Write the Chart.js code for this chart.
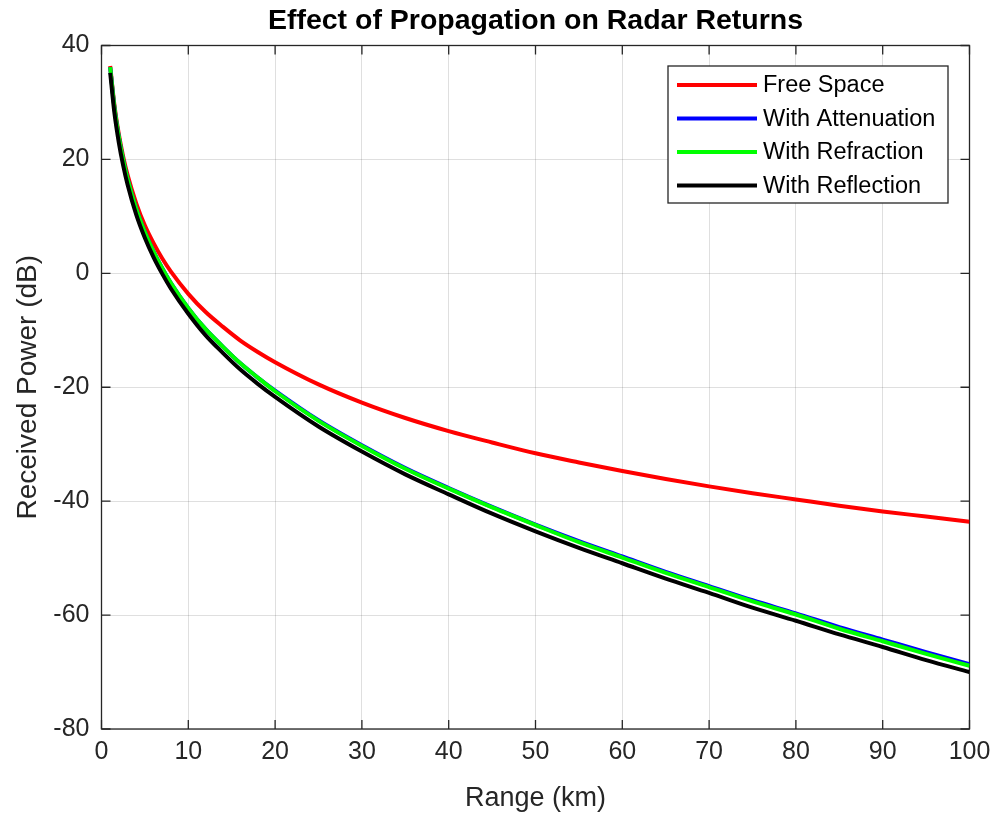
<!DOCTYPE html>
<html>
<head>
<meta charset="utf-8">
<script src="https://cdn.jsdelivr.net/npm/chart.js@4.4.1/dist/chart.umd.min.js"></script>
<style>
  body { margin: 0; background: #fff; }
  #wrap { width: 994px; height: 818px; }
</style>
</head>
<body>
<div id="wrap"><canvas id="myChart" width="994" height="818"></canvas></div>
<script>
// range in km
var ranges = [1, 1.5, 2, 2.5, 3, 4, 5, 6, 7, 8, 10, 12, 14, 16, 18, 20, 25, 30, 35, 40, 45, 50, 55, 60, 65, 70, 75, 80, 85, 90, 95, 100];

// received power in dB
var freeSpace   = [36.4, 29.4, 24.4, 20.5, 17.3, 12.3, 8.4, 5.3, 2.6, 0.3, -3.6, -6.8, -9.4, -11.8, -13.8, -15.6, -19.5, -22.7, -25.4, -27.7, -29.7, -31.6, -33.2, -34.7, -36.1, -37.4, -38.6, -39.7, -40.8, -41.8, -42.7, -43.6];
var attenuation = [36.2, 29.0, 23.9, 19.9, 16.6, 11.3, 7.2, 3.8, 0.9, -1.7, -6.1, -9.8, -12.9, -15.8, -18.3, -20.6, -25.8, -30.2, -34.2, -37.7, -41.0, -44.1, -47.0, -49.7, -52.4, -54.9, -57.4, -59.7, -62.1, -64.3, -66.5, -68.6];
var refraction  = [36.2, 29.0, 23.9, 19.9, 16.6, 11.3, 7.2, 3.8, 0.9, -1.7, -6.1, -9.8, -12.9, -15.8, -18.3, -20.7, -25.9, -30.3, -34.3, -37.8, -41.1, -44.2, -47.2, -49.9, -52.6, -55.1, -57.6, -59.9, -62.4, -64.6, -66.8, -68.9];
var reflection  = [35.2, 28.0, 22.9, 18.9, 15.6, 10.3, 6.2, 2.8, -0.1, -2.7, -7.1, -10.9, -14.0, -16.9, -19.4, -21.7, -26.9, -31.3, -35.3, -38.8, -42.2, -45.3, -48.2, -50.9, -53.6, -56.1, -58.7, -61.0, -63.4, -65.6, -67.9, -70.0];

var seriesNames = ["Free Space", "With Attenuation", "With Refraction", "With Reflection"];
var seriesColors = ["#ff0000", "#0000ff", "#00ff00", "#000000"];

var xTicks = [0, 10, 20, 30, 40, 50, 60, 70, 80, 90, 100];
var yTicks = [-80, -60, -40, -20, 0, 20, 40];

var chartTitle = "Effect of Propagation on Radar Returns";

var axisColor = "#262626";
var gridColor = "rgba(38,38,38,0.15)";
var fontFamily = "'Liberation Sans', Arial, Helvetica, sans-serif";

function toPoints(ys) {
  return ranges.map(function (r, i) { return { x: r, y: ys[i] }; });
}

var allSeries = [freeSpace, attenuation, refraction, reflection];
var datasets = allSeries.map(function (ys, i) {
  return {
    label: seriesNames[i],
    data: toPoints(ys),
    borderColor: seriesColors[i],
    backgroundColor: seriesColors[i],
    borderWidth: 4,
    pointRadius: 0,
    fill: false,
    cubicInterpolationMode: "monotone",
    order: allSeries.length - i   // later series drawn on top
  };
});

// box around the axes + inward tick marks + title centred over the axes (matlab look)
var axesBox = {
  id: "axesBox",
  beforeDatasetsDraw: function (chart) {
    var ctx = chart.ctx;
    var a = chart.chartArea;
    var xs = chart.scales.x, ys = chart.scales.y;
    var tl = 9;
    ctx.save();
    ctx.strokeStyle = axisColor;
    ctx.lineWidth = 1.3;
    ctx.beginPath();
    xTicks.forEach(function (v) {
      var px = xs.getPixelForValue(v);
      ctx.moveTo(px, a.bottom); ctx.lineTo(px, a.bottom - tl);
      ctx.moveTo(px, a.top); ctx.lineTo(px, a.top + tl);
    });
    yTicks.forEach(function (v) {
      var py = ys.getPixelForValue(v);
      ctx.moveTo(a.left, py); ctx.lineTo(a.left + tl, py);
      ctx.moveTo(a.right, py); ctx.lineTo(a.right - tl, py);
    });
    ctx.stroke();
    ctx.strokeRect(a.left, a.top, a.right - a.left, a.bottom - a.top);

    ctx.fillStyle = "#000";
    ctx.font = "bold 28.5px " + fontFamily;
    ctx.textAlign = "center";
    ctx.textBaseline = "middle";
    ctx.fillText(chartTitle, (a.left + a.right) / 2, 21);
    ctx.restore();
  }
};

// legend box in the upper right corner
var boxLegend = {
  id: "boxLegend",
  afterDraw: function (chart) {
    var ctx = chart.ctx;
    var bx = 668, by = 66, bw = 280, bh = 137;
    var rowH = 33.5;
    ctx.save();
    ctx.fillStyle = "#fff";
    ctx.fillRect(bx, by, bw, bh);
    ctx.strokeStyle = axisColor;
    ctx.lineWidth = 1.3;
    ctx.strokeRect(bx, by, bw, bh);
    ctx.font = "23.5px " + fontFamily;
    ctx.textBaseline = "middle";
    ctx.textAlign = "left";
    chart.data.datasets.forEach(function (ds, i) {
      var cy = by + 19 + i * rowH;
      ctx.strokeStyle = ds.borderColor;
      ctx.lineWidth = 4;
      ctx.beginPath();
      ctx.moveTo(bx + 9, cy);
      ctx.lineTo(bx + 89, cy);
      ctx.stroke();
      ctx.fillStyle = "#000";
      ctx.fillText(ds.label, bx + 95, cy + 1);
    });
    ctx.restore();
  }
};

new Chart("myChart", {
  type: "line",
  data: { datasets: datasets },
  plugins: [axesBox, boxLegend],
  options: {
    responsive: false,
    animation: false,
    devicePixelRatio: 1,
    layout: { padding: { left: 0, right: 24.5, top: 45.5, bottom: 0 } },
    plugins: {
      legend: { display: false },
      tooltip: { enabled: false },
      title: { display: false }
    },
    scales: {
      x: {
        type: "linear",
        min: 0,
        max: 100,
        afterBuildTicks: function (scale) {
          scale.ticks = xTicks.map(function (v) { return { value: v }; });
        },
        afterFit: function (scale) {
          scale.height = 89;
          scale.paddingLeft = 0;
          scale.paddingRight = 0;
        },
        grid: { color: gridColor, drawTicks: false, lineWidth: 1 },
        border: { display: false },
        ticks: {
          color: axisColor,
          font: { family: fontFamily, size: 25 },
          padding: 8,
          maxRotation: 0,
          autoSkip: false
        },
        title: {
          display: true,
          text: "Range (km)",
          color: axisColor,
          font: { family: fontFamily, size: 27 },
          padding: { top: 3, bottom: 3 }
        }
      },
      y: {
        min: -80,
        max: 40,
        afterBuildTicks: function (scale) {
          scale.ticks = yTicks.map(function (v) { return { value: v }; });
        },
        afterFit: function (scale) {
          scale.width = 101.5;
          scale.paddingTop = 0;
          scale.paddingBottom = 0;
        },
        grid: { color: gridColor, drawTicks: false, lineWidth: 1 },
        border: { display: false },
        ticks: {
          color: axisColor,
          font: { family: fontFamily, size: 25 },
          padding: 12
        },
        title: {
          display: true,
          text: "Received Power (dB)",
          color: axisColor,
          font: { family: fontFamily, size: 28 },
          padding: { top: 11, bottom: 11 }
        }
      }
    }
  }
});
</script>
</body>
</html>
